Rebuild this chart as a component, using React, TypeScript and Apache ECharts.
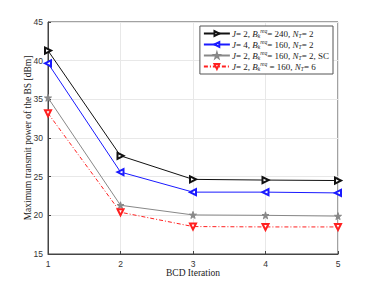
import React, { useEffect, useRef } from "react";
import * as echarts from "echarts";

const iterations = ["1", "2", "3", "4", "5"];
const seriesNames = ["s1", "s2", "s3", "s4"];
const valsA = [41.3, 27.7, 24.65, 24.56, 24.5];
const valsB = [39.65, 25.6, 23.0, 23.0, 22.9];
const valsC = [35.2, 21.3, 20.05, 20.0, 19.9];
const valsD = [33.2, 20.4, 18.55, 18.5, 18.5];
const legendTexts: Record<string, string> = {
  s1: "{i|J}{n|= 2, }{i|B}{sub|k}{sup|req}{n|= 240, }{i|N}{sub|T}{n|= 2}",
  s2: "{i|J}{n|= 4, }{i|B}{sub|k}{sup|req}{n|= 160, }{i|N}{sub|T}{n|= 2}",
  s3: "{i|J}{n|= 2, }{i|B}{sub|k}{sup|req}{n|= 160, }{i|N}{sub|T}{n|= 2, SC}",
  s4: "{i|J}{n|= 2, }{i|B}{sub|k}{sup|req}{n| = 160, }{i|N}{sub|T}{n|= 6}",
};

const STAR = "path://M50,0 L61,35 L98,35 L68,57 L79,91 L50,70 L21,91 L32,57 L2,35 L39,35 Z";

export default function App() {
  const ref = useRef<HTMLDivElement>(null);
  useEffect(() => {
    const chart = echarts.init(ref.current!, undefined, { renderer: "svg" });
    const serif = "Liberation Serif";
    const mk = (name: string, data: number[], color: string, symbol: string, rot: number, type: any, size: number) => ({
      name,
      type: "line",
      data,
      symbol,
      symbolSize: size,
      symbolRotate: rot,
      lineStyle: { color, width: 1, type },
      itemStyle: { color, borderColor: color, borderWidth: 1 },
    });
    chart.setOption({
      animation: false,
      grid: { left: 40, right: 36, top: 14, bottom: 32, outerBoundsMode: "none", containLabel: false, show: true, borderColor: "#444", borderWidth: 1, backgroundColor: "#fff" },
      xAxis: {
        type: "category",
        data: iterations,
        boundaryGap: false,
        name: "BCD Iteration",
        nameLocation: "middle",
        nameGap: 14,
        nameMoveOverlap: false,
        nameTextStyle: { fontFamily: serif, fontSize: 9.5, color: "#222" },
        axisLine: { lineStyle: { color: "#444" } },
        axisTick: { inside: true, length: 3, lineStyle: { color: "#444" } },
        axisLabel: { fontFamily: "Liberation Sans", fontSize: 8.5, color: "#333", margin: 5 },
        splitLine: { show: true, lineStyle: { color: "#e8e8e8" } },
      },
      yAxis: {
        type: "value",
        min: 15,
        max: 45,
        interval: 5,
        name: "Maximum transmit power of the BS [dBm]",
        nameLocation: "middle",
        nameGap: 15,
        nameMoveOverlap: false,
        nameTextStyle: { fontFamily: serif, fontSize: 9.5, color: "#222" },
        axisLine: { show: true, lineStyle: { color: "#444" } },
        axisTick: { show: true, inside: true, length: 3, lineStyle: { color: "#444" } },
        axisLabel: { fontFamily: "Liberation Sans", fontSize: 8.5, color: "#333", margin: 5 },
        splitLine: { show: true, lineStyle: { color: "#e8e8e8" } },
      },
      legend: {
        data: seriesNames,
        right: 41,
        top: 18,
        orient: "vertical",
        itemGap: 0,
        itemWidth: 26,
        itemHeight: 6,
        padding: [2, 4, 2, 3],
        backgroundColor: "#fff",
        borderColor: "#555",
        borderWidth: 1,
        borderRadius: 0,
        formatter: (n: string) => legendTexts[n],
        textStyle: {
          fontFamily: serif,
          fontSize: 9,
          color: "#222",
          padding: [0, 0, 0, -3],
          rich: {
            n: { fontFamily: serif, fontSize: 9, color: "#222" },
            i: { fontFamily: serif, fontSize: 9, fontStyle: "italic", color: "#222" },
            sub: { fontFamily: serif, fontSize: 5.5, fontStyle: "italic", color: "#222", padding: [5, 0, 0, 0] },
            sup: { fontFamily: serif, fontSize: 5.5, fontStyle: "italic", color: "#222", padding: [0, 0, 5, 0] },
          },
        },
      },
      series: [
        mk("s1", valsA, "#111", "emptyTriangle", -90, "solid", 6),
        mk("s2", valsB, "#1a1aff", "emptyTriangle", 90, "solid", 6),
        mk("s3", valsC, "#888", STAR, 0, "solid", 7),
        mk("s4", valsD, "#ff2020", "emptyTriangle", 180, [4, 2, 1, 2], 6),
      ],
    });
    return () => chart.dispose();
  }, []);
  return <div ref={ref} style={{ width: 366, height: 278 }} />;
}
